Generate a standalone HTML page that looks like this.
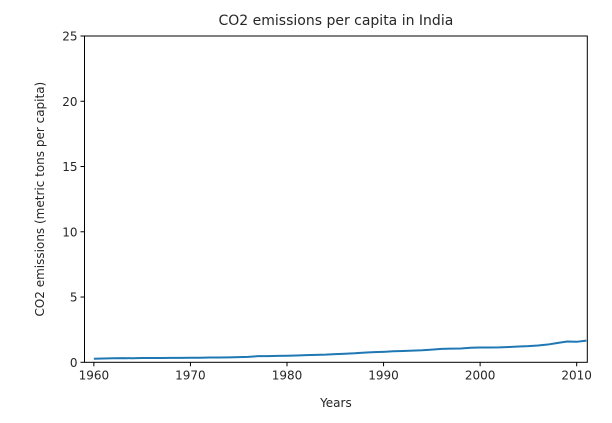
<!DOCTYPE html>
<html><head><meta charset="utf-8"><style>
body{margin:0;background:#fff;}
svg text{font-family:"DejaVu Sans","Liberation Sans",sans-serif;fill:#262626;}
</style></head><body>
<svg width="612" height="418">
<g id="g"></g>
</svg>
<script>
const years=[1960,1961,1962,1963,1964,1965,1966,1967,1968,1969,1970,1971,1972,1973,1974,1975,1976,1977,1978,1979,1980,1981,1982,1983,1984,1985,1986,1987,1988,1989,1990,1991,1992,1993,1994,1995,1996,1997,1998,1999,2000,2001,2002,2003,2004,2005,2006,2007,2008,2009,2010,2011];
const co2=[0.27,0.29,0.31,0.32,0.31,0.33,0.33,0.33,0.34,0.34,0.35,0.35,0.37,0.37,0.38,0.40,0.42,0.47,0.47,0.49,0.50,0.52,0.55,0.57,0.59,0.63,0.66,0.69,0.74,0.78,0.80,0.85,0.87,0.89,0.92,0.97,1.03,1.05,1.06,1.11,1.13,1.13,1.14,1.17,1.21,1.24,1.29,1.36,1.48,1.59,1.57,1.66];
const xTicks=[1960,1970,1980,1990,2000,2010];
const yTicks=[0,5,10,15,20,25];
const L=84.5,R=587.3,T=36,B=362.3;
const xmin=1959.03,xmax=2011.1,ymin=0,ymax=25;
const X=v=>L+(v-xmin)/(xmax-xmin)*(R-L);
const Y=v=>B-(v-ymin)/(ymax-ymin)*(B-T);
const NS="http://www.w3.org/2000/svg";
const g=document.getElementById('g');
function mk(t,a,txt){const e=document.createElementNS(NS,t);for(const k in a)e.setAttribute(k,a[k]);if(txt!==undefined)e.textContent=txt;g.appendChild(e);return e;}
let d=years.map((y,i)=>(i?'L':'M')+X(y).toFixed(2)+','+Y(co2[i]).toFixed(2)).join('');
const ln=mk('path',{d:d,fill:'none',stroke:'#1f77b4','stroke-width':2,'clip-path':'url(#c)'});


const cp=document.createElementNS(NS,'clipPath');cp.id='c';const cr=document.createElementNS(NS,'rect');
cr.setAttribute('x',L);cr.setAttribute('y',T);cr.setAttribute('width',R-L);cr.setAttribute('height',B-T);cp.appendChild(cr);g.appendChild(cp);
const fr=mk('rect',{x:L,y:T,width:R-L,height:B-T,fill:'none',stroke:'#000','stroke-width':1});


xTicks.forEach(v=>{const x=X(v);mk('line',{x1:x,x2:x,y1:B,y2:B+4,stroke:'#000'});
const t=mk('text',{x:x,y:B+17,'text-anchor':'middle','font-size':12},v);

});
yTicks.forEach(v=>{const y=Y(v);mk('line',{x1:L-4,x2:L,y1:y,y2:y,stroke:'#000'});
const t=mk('text',{x:L-7,y:y+4.5,'text-anchor':'end','font-size':12},v);

});
const tt=mk('text',{x:(L+R)/2,y:25,'text-anchor':'middle','font-size':14},'CO2 emissions per capita in India');


const xt=mk('text',{x:(L+R)/2,y:407,'text-anchor':'middle','font-size':12},'Years');


const yt=mk('text',{x:0,y:0,transform:'translate(44,'+((T+B)/2)+') rotate(-90)','text-anchor':'middle','font-size':12},'CO2 emissions (metric tons per capita)');


</script>
</body></html>
